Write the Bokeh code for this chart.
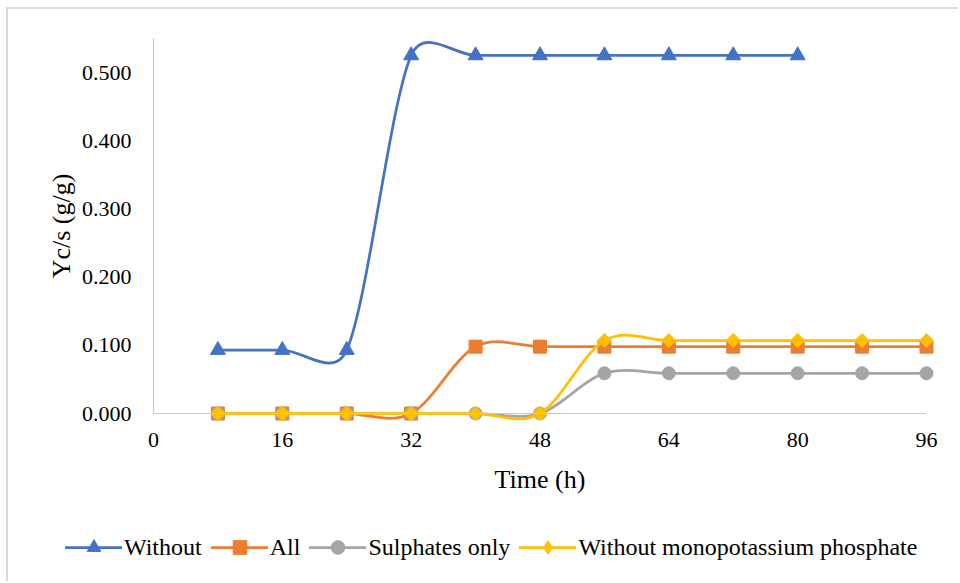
from bokeh.plotting import figure
from bokeh.models import (Range1d, FixedTicker, NumeralTickFormatter, Legend, LegendItem, LinearAxis)
from bokeh.embed import file_html
from bokeh.resources import INLINE
import math

# Sampling times (h)
time_h = [8, 16, 24, 32, 40, 48, 56, 64, 72, 80, 88, 96]

# Yc/s (g/g) per medium
yield_without = [0.093, 0.093, 0.093, 0.525, 0.525, 0.525, 0.525, 0.525, 0.525, 0.525]
yield_all = [0.0, 0.0, 0.0, 0.0, 0.098, 0.098, 0.098, 0.098, 0.098, 0.098, 0.098, 0.098]
yield_sulphates = [0.0, 0.0, 0.0, 0.0, 0.0, 0.0, 0.059, 0.059, 0.059, 0.059, 0.059, 0.059]
yield_no_kh2po4 = [0.0, 0.0, 0.0, 0.0, 0.0, 0.0, 0.107, 0.107, 0.107, 0.107, 0.107, 0.107]

series_names = ["Without", "All", "Sulphates only", "Without monopotassium phosphate"]
x_ticks = [0, 16, 32, 48, 64, 80, 96]
y_ticks = [0.0, 0.1, 0.2, 0.3, 0.4, 0.5]

FONT = "Liberation Serif"
# the chart area sits inside a thin grey frame offset from the page corner
OFF_X, OFF_Y = 8, 9
W, H = 960 - OFF_X, 583 - OFF_Y

# plot-area geometry (page pixels): x = 0 and 96 h, y = 0 and 0.5
PX0, PX96 = 153, 926
PY0, PY05 = 413, 72
SX = (PX96 - PX0) / 96.0
SY = (PY0 - PY05) / 0.5
X_LO = (OFF_X - PX0) / SX
X_HI = 96 + (960 - PX96) / SX
Y_HI = (PY0 - OFF_Y) / SY
Y_LO = (PY0 - 583) / SY
X_MAX, Y_MAX = 96, 0.55

p = figure(width=W, height=H, output_backend="svg", toolbar_location=None,
           x_range=Range1d(X_LO, X_HI), y_range=Range1d(Y_LO, Y_HI),
           x_axis_location=None, y_axis_location=None,
           min_border=0, margin=(OFF_Y - 2, 0, 0, OFF_X - 2))
p.styles = {"border-top": "2px solid #d9d9d9", "border-left": "2px solid #d9d9d9"}
p.outline_line_color = None
p.xgrid.visible = False
p.ygrid.visible = False
p.background_fill_color = "white"
p.border_fill_color = "white"

xaxis = LinearAxis(fixed_location=0, bounds=(0, X_MAX), axis_label="Time (h)",
                   ticker=FixedTicker(ticks=x_ticks))
yaxis = LinearAxis(fixed_location=0, bounds=(0, Y_MAX), axis_label="Yc/s (g/g)",
                   ticker=FixedTicker(ticks=y_ticks),
                   formatter=NumeralTickFormatter(format="0.000"))
for ax in (xaxis, yaxis):
    ax.axis_line_color = "#c8c8c8"
    ax.axis_line_width = 1.2
    ax.major_tick_line_color = None
    ax.minor_tick_line_color = None
    ax.major_tick_out = 0
    ax.major_tick_in = 0
    ax.major_label_text_font = FONT
    ax.major_label_text_font_size = "22px"
    ax.major_label_text_color = "black"
    ax.axis_label_text_font = FONT
    ax.axis_label_text_font_size = "26px"
    ax.axis_label_text_font_style = "normal"
    ax.axis_label_text_color = "black"
xaxis.major_label_standoff = 19
yaxis.major_label_standoff = 22
xaxis.axis_label_standoff = 15
yaxis.axis_label_standoff = 3
p.add_layout(xaxis, "below")
p.add_layout(yaxis, "left")


def smooth_segments(xs, ys, tension=1.0 / 6.0):
    """Cubic Bezier segments through the points, tangent length capped at half the chord."""
    n = len(xs)
    pts = [(x * SX, y * SY) for x, y in zip(xs, ys)]
    out = {k: [] for k in ("x0", "y0", "x1", "y1", "cx0", "cy0", "cx1", "cy1")}
    for i in range(n - 1):
        p0 = pts[i - 1] if i > 0 else pts[i]
        p1 = pts[i]
        p2 = pts[i + 1]
        p3 = pts[i + 2] if i + 2 < n else pts[i + 1]
        chord = math.hypot(p2[0] - p1[0], p2[1] - p1[1])
        t1 = [(p2[0] - p0[0]) * tension, (p2[1] - p0[1]) * tension]
        t2 = [(p3[0] - p1[0]) * tension, (p3[1] - p1[1]) * tension]
        for t in (t1, t2):
            ln = math.hypot(t[0], t[1])
            if ln > chord / 2 and ln > 0:
                s = (chord / 2) / ln
                t[0] *= s
                t[1] *= s
        c1 = (p1[0] + t1[0], p1[1] + t1[1])
        c2 = (p2[0] - t2[0], p2[1] - t2[1])
        out["x0"].append(p1[0] / SX); out["y0"].append(p1[1] / SY)
        out["x1"].append(p2[0] / SX); out["y1"].append(p2[1] / SY)
        out["cx0"].append(c1[0] / SX); out["cy0"].append(c1[1] / SY)
        out["cx1"].append(c2[0] / SX); out["cy1"].append(c2[1] / SY)
    return out


styles = [
    dict(values=yield_without, color="#4472C4", marker="triangle", size=15, angle=0.0,
         key_marker="triangle"),
    dict(values=yield_all, color="#ED7D31", marker="square", size=13, angle=0.0,
         key_marker="square"),
    dict(values=yield_sulphates, color="#A5A5A5", marker="circle", size=13, angle=0.0,
         key_marker="circle"),
    dict(values=yield_no_kh2po4, color="#FFC000", marker="square", size=10, angle=math.pi / 4,
         key_marker="diamond"),
]

items = []
for name, st in zip(series_names, styles):
    xs = time_h[:len(st["values"])]
    seg = smooth_segments(xs, st["values"])
    r_line = p.bezier(source=seg, x0="x0", y0="y0", x1="x1", y1="y1",
                      cx0="cx0", cy0="cy0", cx1="cx1", cy1="cy1",
                      line_color=st["color"], line_width=2.75, line_cap="round")
    key = [r_line]
    if st["key_marker"] != st["marker"]:
        # small diamond under each rotated square, used for the legend key
        key.append(p.scatter(xs, st["values"], marker=st["key_marker"], size=6,
                             fill_color=st["color"], line_color=st["color"], line_width=1))
    r_mark = p.scatter(xs, st["values"], marker=st["marker"], size=st["size"],
                       angle=st["angle"], fill_color=st["color"], line_color=st["color"],
                       line_width=1)
    if st["key_marker"] == st["marker"]:
        key.append(r_mark)
    items.append(LegendItem(label=name, renderers=key))

GLYPH_H = 34
legend = Legend(items=items, orientation="horizontal",
                location=(65 - OFF_X, 583 - (547 + GLYPH_H / 2)),
                glyph_width=57, glyph_height=GLYPH_H, label_standoff=2, spacing=9,
                padding=0, margin=0, border_line_alpha=0, background_fill_alpha=0,
                label_text_font=FONT, label_text_font_size="24px",
                label_text_color="black", label_height=GLYPH_H)
p.add_layout(legend, "center")

open("out.html", "w").write(file_html(p, INLINE))
